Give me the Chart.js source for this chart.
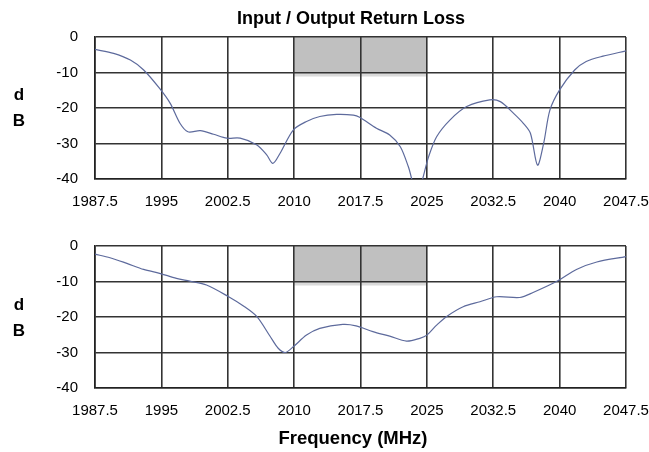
<!DOCTYPE html>
<html>
<head>
<meta charset="utf-8">
<script src="https://cdn.jsdelivr.net/npm/chart.js@4.4.1/dist/chart.umd.min.js"></script>
<style>
  body { margin: 0; background: #fff; }
  #wrap { position: relative; width: 649px; height: 452px; font-family: "Liberation Sans", Arial, sans-serif; }
  .box { position: absolute; left: 0; width: 649px; height: 226px; }
  #topBox { top: 0; }
  #bottomBox { top: 209px; }
  .label { position: absolute; font-weight: bold; color: #000; white-space: nowrap; line-height: 1; }
  #title { top: 9px; left: 351px; transform: translateX(-50%); font-size: 18px; }
  #xTitle { top: 429px; left: 353px; transform: translateX(-50%); font-size: 18.5px; }
  .db { left: 12px; font-size: 17px; line-height: 26px; text-align: center; width: 14px; }
</style>
</head>
<body>
<div id="wrap">
  <div class="box" id="topBox"><canvas id="topChart"></canvas></div>
  <div class="box" id="bottomBox"><canvas id="bottomChart"></canvas></div>
  <div class="label" id="title">Input / Output Return Loss</div>
  <div class="label" id="xTitle">Frequency (MHz)</div>
  <div class="label db" style="top:82px">d<br>B</div>
  <div class="label db" style="top:292px">d<br>B</div>
</div>
<script>
// frequency ticks (MHz) and level ticks (dB)
const freqTicks = [1987.5, 1995, 2002.5, 2010, 2017.5, 2025, 2032.5, 2040, 2047.5];
const levelTicks = [0, -10, -20, -30, -40];

// spec mask (shaded block)
const maskFreq = [2010, 2025];
const maskLevel = [0, -10];

// upper plot
const topFreq = [1987.5, 1989.6, 1991.5, 1993, 1994.8, 1996, 1997.1, 1998, 1999.4, 2000.9, 2002.4, 2003.9, 2005.8, 2006.9, 2007.6, 2008.4, 2009.9, 2011.4, 2012.9, 2014.8, 2016.7, 2017.4, 2019.3, 2020.8, 2022, 2022.9, 2023.9, 2025.2, 2026.1, 2027.6, 2029.5, 2032.1, 2033.3, 2034.8, 2035.9, 2036.7, 2037.5, 2038.2, 2038.9, 2040, 2041.7, 2043, 2044.9, 2047.5];
const topLoss = [-3.5, -4.6, -6.5, -9.3, -14.5, -18.7, -24.3, -26.7, -26.4, -27.4, -28.5, -28.5, -30.4, -33.2, -35.6, -32.8, -26.2, -23.8, -22.4, -21.8, -22, -22.6, -25.7, -27.6, -30.9, -36.5, -44, -33.7, -28.1, -23.4, -19.6, -17.7, -18.2, -21.5, -24.3, -27.1, -36.1, -29.9, -20.6, -14.9, -9.3, -6.9, -5.4, -3.9];

// lower plot
const bottomFreq = [1987.5, 1989.2, 1991.1, 1993, 1994.8, 1996.7, 1998.2, 2000.1, 2002.6, 2004.4, 2005.8, 2007.3, 2008.2, 2009, 2009.9, 2011.4, 2012.9, 2015.5, 2017, 2018.9, 2020.8, 2022.7, 2024.2, 2025, 2026.1, 2027.2, 2029.1, 2031, 2032.9, 2035.5, 2037, 2039.8, 2041.9, 2044.2, 2047.5];
const bottomLoss = [-2.3, -3.3, -4.9, -6.6, -7.7, -9.1, -9.9, -11, -14.3, -17.1, -19.9, -25.5, -28.8, -30, -28.4, -25.1, -23.2, -22.1, -22.5, -24.1, -25.4, -26.8, -26, -25.1, -22.3, -19.9, -17.1, -15.7, -14.3, -14.5, -13.1, -9.8, -6.6, -4.5, -3];

const maskPlugin = {
  id: "mask",
  beforeDraw(chart) {
    const { ctx, scales: { x, y } } = chart;
    const left = x.getPixelForValue(maskFreq[0]);
    const right = x.getPixelForValue(maskFreq[1]);
    const top = y.getPixelForValue(maskLevel[0]);
    const bottom = y.getPixelForValue(maskLevel[1]);
    ctx.save();
    ctx.fillStyle = "#dadada";
    ctx.fillRect(left, bottom, right - left, 4);
    ctx.fillStyle = "#c0c0c0";
    ctx.fillRect(left, top, right - left, bottom - top);
    ctx.restore();
  }
};

const tickFont = { family: "'Liberation Sans', Arial, sans-serif", size: 15 };

function makeChart(id, freq, loss) {
  return new Chart(document.getElementById(id), {
    type: "line",
    data: {
      datasets: [{
        data: freq.map((f, i) => ({ x: f, y: loss[i] })),
        borderColor: "#5d6a9c",
        borderWidth: 1.2,
        pointRadius: 0,
        tension: 0.3,
        fill: false
      }]
    },
    options: {
      responsive: false,
      animation: false,
      layout: { padding: { top: 37, right: 23, left: 0, bottom: 0 } },
      plugins: { legend: { display: false }, tooltip: { enabled: false } },
      scales: {
        x: {
          type: "linear",
          min: freqTicks[0],
          max: freqTicks[freqTicks.length - 1],
          afterBuildTicks: s => { s.ticks = freqTicks.map(v => ({ value: v })); },
          afterFit: s => { s.height = 47; s.paddingLeft = 0; s.paddingRight = 0; },
          grid: { color: "#333", lineWidth: 1.6, drawTicks: false },
          border: { color: "#222", width: 1.6 },
          ticks: {
            padding: 14,
            maxRotation: 0,
            autoSkip: false,
            color: "#000",
            font: tickFont,
            callback: v => String(v)
          }
        },
        y: {
          min: levelTicks[levelTicks.length - 1],
          max: levelTicks[0],
          afterBuildTicks: s => { s.ticks = levelTicks.map(v => ({ value: v })); },
          afterFit: s => { s.width = 95; s.paddingTop = 0; s.paddingBottom = 0; },
          grid: { color: "#333", lineWidth: 1.6, drawTicks: false },
          border: { color: "#222", width: 1.6 },
          ticks: {
            padding: 17,
            color: "#000",
            font: tickFont,
            callback: v => String(v)
          }
        }
      }
    },
    plugins: [maskPlugin]
  });
}

document.getElementById("topChart").width = 649;
document.getElementById("topChart").height = 226;
document.getElementById("bottomChart").width = 649;
document.getElementById("bottomChart").height = 226;

makeChart("topChart", topFreq, topLoss);
makeChart("bottomChart", bottomFreq, bottomLoss);
</script>
</body>
</html>
